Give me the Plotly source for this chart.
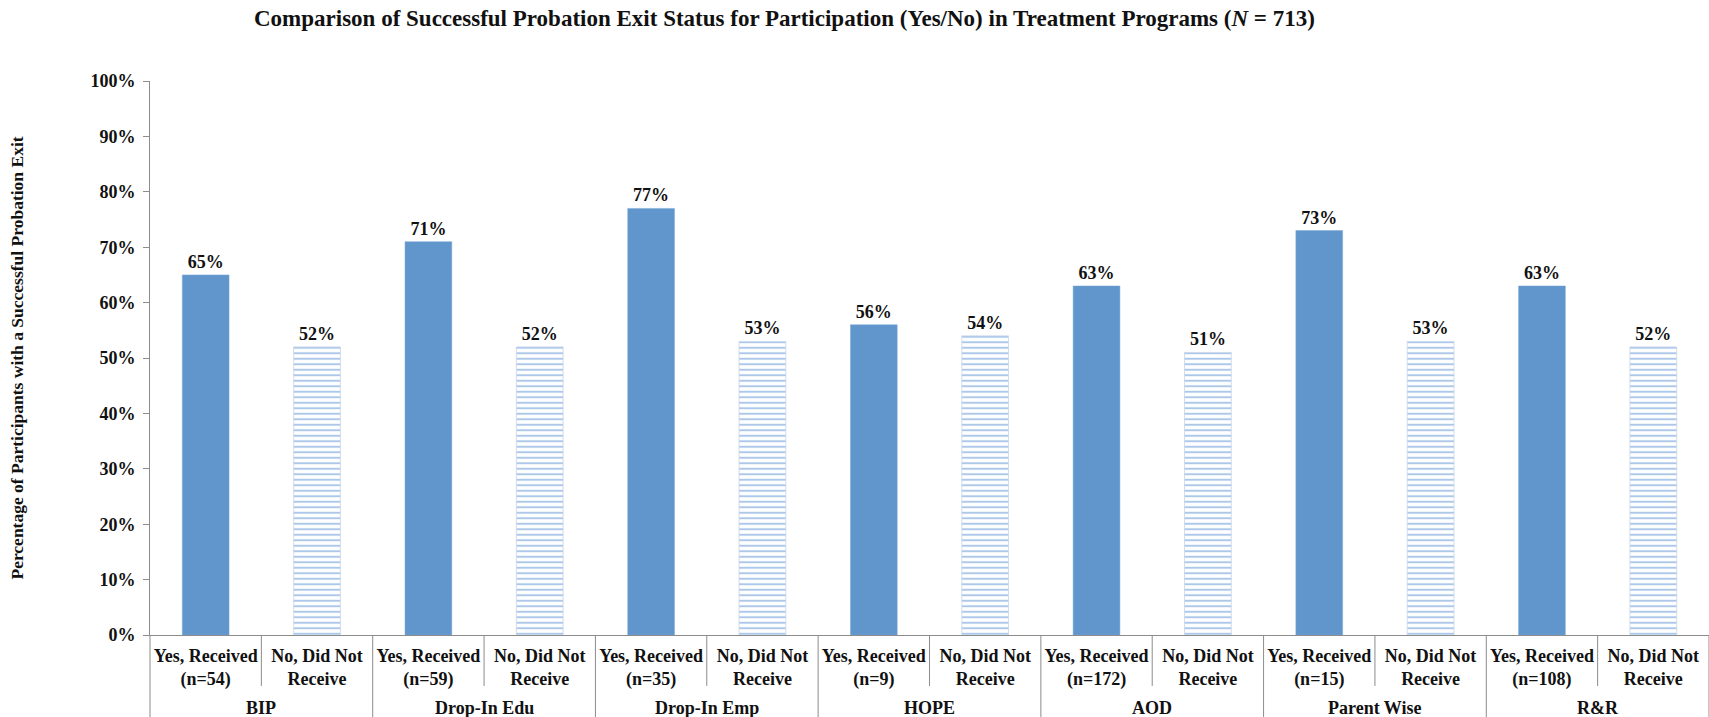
import plotly.graph_objects as go

# Programs and outcome rates (percent with a successful probation exit)
programs = ["BIP", "Drop-In Edu", "Drop-In Emp", "HOPE", "AOD", "Parent Wise", "R&R"]
n_received = [54, 59, 35, 9, 172, 15, 108]
pct_received = [65, 71, 77, 56, 63, 73, 63]
pct_not_received = [52, 52, 53, 54, 51, 53, 52]

yes_labels = [f"Yes, Received<br>(n={n})" for n in n_received]
no_label = "No, Did Not<br>Receive"

FONT = "Liberation Serif"
INK = "#111111"
AXIS = "#8c8c8c"
BLUE = "#6096cb"
STRIPE = "#5a8fd2"

# Each program occupies two slots: Yes at 2i, No at 2i+1
x_yes = [2 * i for i in range(len(programs))]
x_no = [2 * i + 1 for i in range(len(programs))]
tick_vals = sorted(x_yes + x_no)
tick_text = []
for yl in yes_labels:
    tick_text += [yl, no_label]
group_centers = [2 * i + 0.5 for i in range(len(programs))]

fig = go.Figure()

fig.add_trace(go.Bar(
    x=x_yes,
    y=[v / 100 for v in pct_received],
    width=0.42,
    marker=dict(color=BLUE, line=dict(color="#7aa6d6", width=0.5)),
    text=[f"{v}%" for v in pct_received],
    textposition="outside",
    textfont=dict(family=FONT, size=18, color=INK, weight="bold"),
    cliponaxis=False,
    showlegend=False,
))

fig.add_trace(go.Bar(
    x=x_no,
    y=[v / 100 for v in pct_not_received],
    width=0.42,
    marker=dict(
        color="white",
        line=dict(color="#c5d6ec", width=0.8),
        pattern=dict(shape="-", fgcolor=STRIPE, bgcolor="white", size=5.5, solidity=0.36),
    ),
    text=[f"{v}%" for v in pct_not_received],
    textposition="outside",
    textfont=dict(family=FONT, size=18, color=INK, weight="bold"),
    cliponaxis=False,
    showlegend=False,
))

# Category separators below the axis: short between Yes/No, full-height between programs
shapes = []
for k in range(len(tick_vals)):
    xb = k + 0.5
    full = (k % 2 == 1)
    shapes.append(dict(
        type="line", xref="x", yref="paper",
        x0=xb, x1=xb, y0=0, y1=-0.15 if full else -0.092,
        line=dict(color=AXIS, width=1),
    ))
shapes.append(dict(
    type="line", xref="paper", yref="paper",
    x0=0, x1=0, y0=0, y1=-0.15,
    line=dict(color=AXIS, width=1),
))

annotations = [
    dict(
        x=c, y=-0.132, xref="x", yref="paper",
        text=p, showarrow=False, xanchor="center", yanchor="middle",
        font=dict(family=FONT, size=18, color=INK, weight="bold"),
    )
    for c, p in zip(group_centers, programs)
]

fig.update_layout(
    width=1709,
    height=717,
    margin=dict(l=150, r=0, t=81, b=82),
    barmode="overlay",
    paper_bgcolor="white",
    plot_bgcolor="white",
    font=dict(family=FONT, size=18, color=INK),
    shapes=shapes,
    annotations=annotations,
    title=dict(
        text="Comparison of Successful Probation Exit Status for Participation (Yes/No) in Treatment Programs (<i>N</i> = 713)",
        x=0.459,
        xanchor="center",
        y=0.975,
        yanchor="middle",
        font=dict(family=FONT, size=23, color=INK, weight="bold"),
    ),
)

fig.update_xaxes(
    range=[-0.5, len(tick_vals) - 0.5],
    tickmode="array",
    tickvals=tick_vals,
    ticktext=tick_text,
    showline=True,
    linecolor=AXIS,
    linewidth=1,
    showgrid=False,
    zeroline=False,
    ticks="",
    ticklabelstandoff=4,
    tickfont=dict(family=FONT, size=18, color=INK, weight="bold"),
)

fig.update_yaxes(
    range=[0, 1],
    dtick=0.1,
    tickformat=".0%",
    showline=True,
    linecolor=AXIS,
    linewidth=1,
    showgrid=False,
    zeroline=False,
    ticks="outside",
    ticklen=6,
    tickcolor=AXIS,
    ticklabelstandoff=4,
    tickfont=dict(family=FONT, size=18, color=INK, weight="bold"),
    title=dict(
        text="Percentage of Participants with a Successful Probation Exit",
        font=dict(family=FONT, size=17.5, color=INK, weight="bold"),
        standoff=62,
    ),
)

fig.write_html("out.html")
